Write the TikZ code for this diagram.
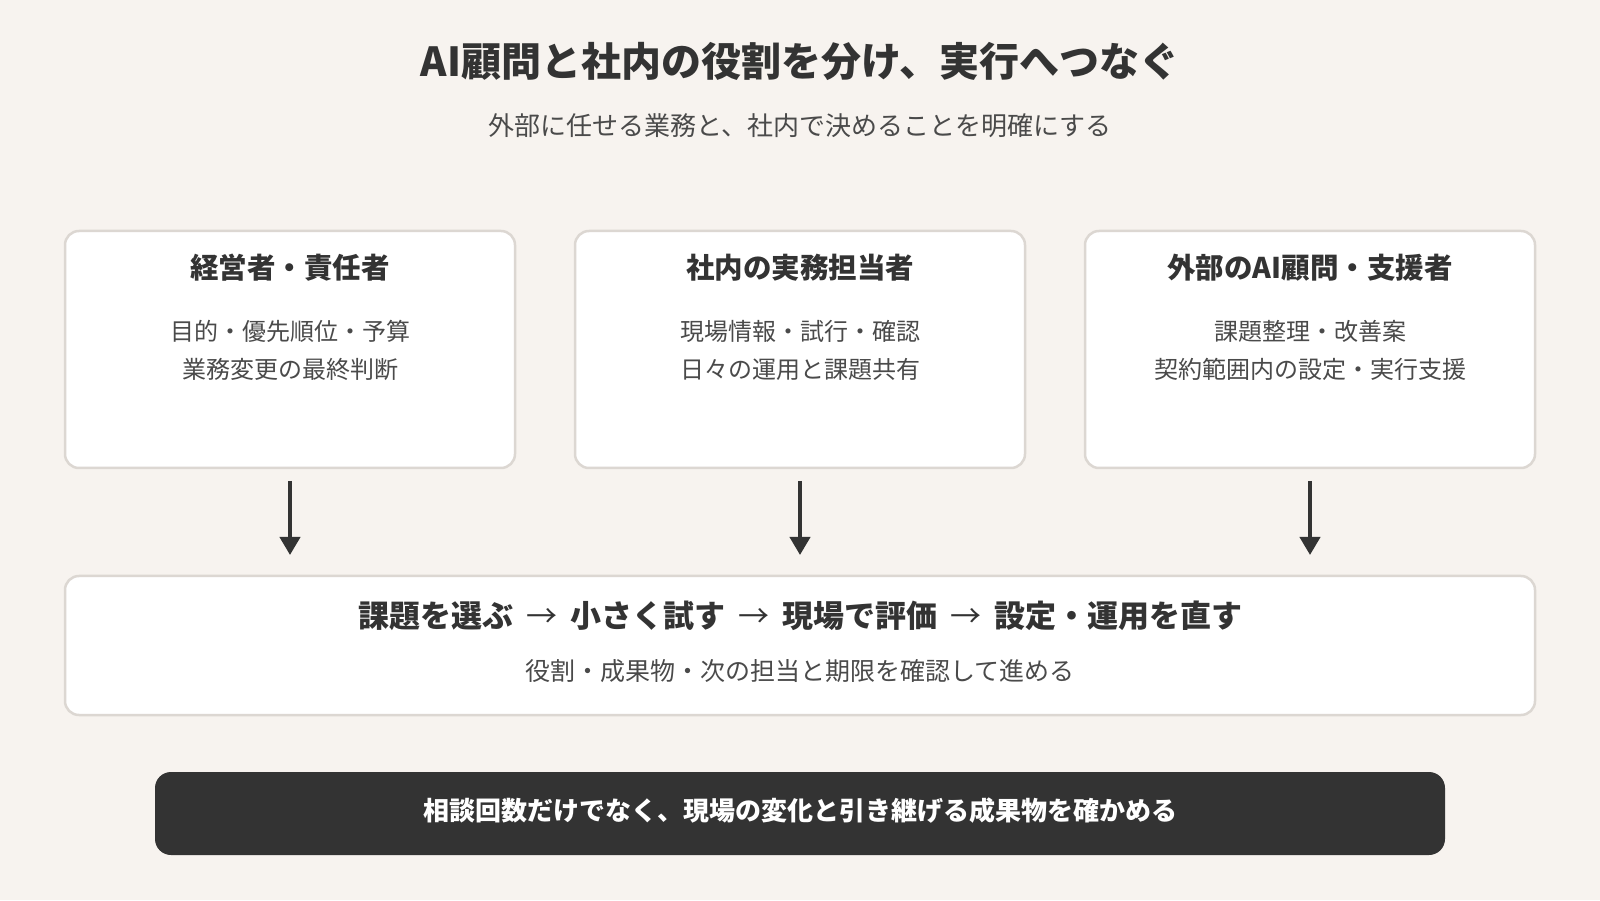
\documentclass[tikz,border=0pt]{standalone}
\usepackage{fontspec}
\setmainfont{Noto Sans CJK JP}
\usetikzlibrary{arrows.meta, positioning}

\definecolor{paper}{HTML}{F7F3EF}
\definecolor{rim}{HTML}{DCD7D2}
\definecolor{ink}{HTML}{333333}
\definecolor{softink}{HTML}{4A4A4A}

\newcommand{\stepto}{\hspace{13pt}{\mdseries →}\hspace{13pt}}

\begin{document}
\begin{tikzpicture}[
        x=1pt, y=1pt,
        inner sep=0pt,
        card/.style={draw=rim, fill=white, line width=2.5pt, rounded corners=14pt,
            outer sep=0pt, minimum width=450pt, minimum height=237pt},
        wide-card/.style={card, minimum width=1470pt, minimum height=139pt},
        dark-card/.style={fill=ink, rounded corners=16pt, outer sep=0pt,
            minimum width=1290pt, minimum height=83pt},
        title/.style={text=ink, font=\bfseries\fontsize{40}{48}\selectfont},
        subtitle/.style={text=softink, font=\fontsize{26}{31}\selectfont},
        card-title/.style={text=ink, font=\bfseries\fontsize{28.5}{34}\selectfont},
        card-text/.style={text=softink, align=center, font=\fontsize{24}{38}\selectfont},
        flow-title/.style={text=ink, font=\bfseries\fontsize{31}{37}\selectfont},
        flow-text/.style={text=softink, font=\fontsize{25}{30}\selectfont},
        banner/.style={text=white, font=\bfseries\fontsize{26}{31}\selectfont},
        post/.style={-{Triangle[length=18pt, width=20pt]}, draw=ink, line width=4pt},
    ]
        \fill[paper] (0,0) rectangle (1600,900);
        \useasboundingbox (0,0) rectangle (1600,900);

        \node[title] (head) at (800,839) {AI顧問と社内の役割を分け、実行へつなぐ};
        \node[subtitle] (lede) at (800,774) {外部に任せる業務と、社内で決めることを明確にする};

        % three roles
        \node[card] (lead) at (290,550.5) {};
        \node[card, right=60pt of lead] (staff) {};
        \node[card, right=60pt of staff] (advisor) {};

        \node[card-title] (lead-name) at ([yshift=-37pt]lead.north) {経営者・責任者};
        \node[card-text, anchor=north] (lead-note) at ([yshift=-89pt]lead.north)
            {目的・優先順位・予算\\業務変更の最終判断};
        \node[card-title] (staff-name) at ([yshift=-37pt]staff.north) {社内の実務担当者};
        \node[card-text, anchor=north] (staff-note) at ([yshift=-89pt]staff.north)
            {現場情報・試行・確認\\日々の運用と課題共有};
        \node[card-title] (advisor-name) at ([yshift=-37pt]advisor.north) {外部のAI顧問・支援者};
        \node[card-text, anchor=north] (advisor-note) at ([yshift=-89pt]advisor.north)
            {課題整理・改善案\\契約範囲内の設定・実行支援};

        % shared cycle
        \node[wide-card] (cycle) at (800,254.5) {};
        \node[flow-title] (cycle-steps) at ([yshift=-40pt]cycle.north)
            {課題を選ぶ\stepto 小さく試す\stepto 現場で評価\stepto 設定・運用を直す};
        \node[flow-text] (cycle-note) at ([yshift=-95pt]cycle.north)
            {役割・成果物・次の担当と期限を確認して進める};

        \draw[post, shorten <=13pt, shorten >=21pt] (lead.south) -- (lead.south |- cycle.north);
        \draw[post, shorten <=13pt, shorten >=21pt] (staff.south) -- (staff.south |- cycle.north);
        \draw[post, shorten <=13pt, shorten >=21pt] (advisor.south) -- (advisor.south |- cycle.north);

        \node[dark-card] (check) at (800,86.5) {};
        \node[banner] (check-text) at ([yshift=3pt]check.center)
            {相談回数だけでなく、現場の変化と引き継げる成果物を確かめる};
\end{tikzpicture}
\end{document}
